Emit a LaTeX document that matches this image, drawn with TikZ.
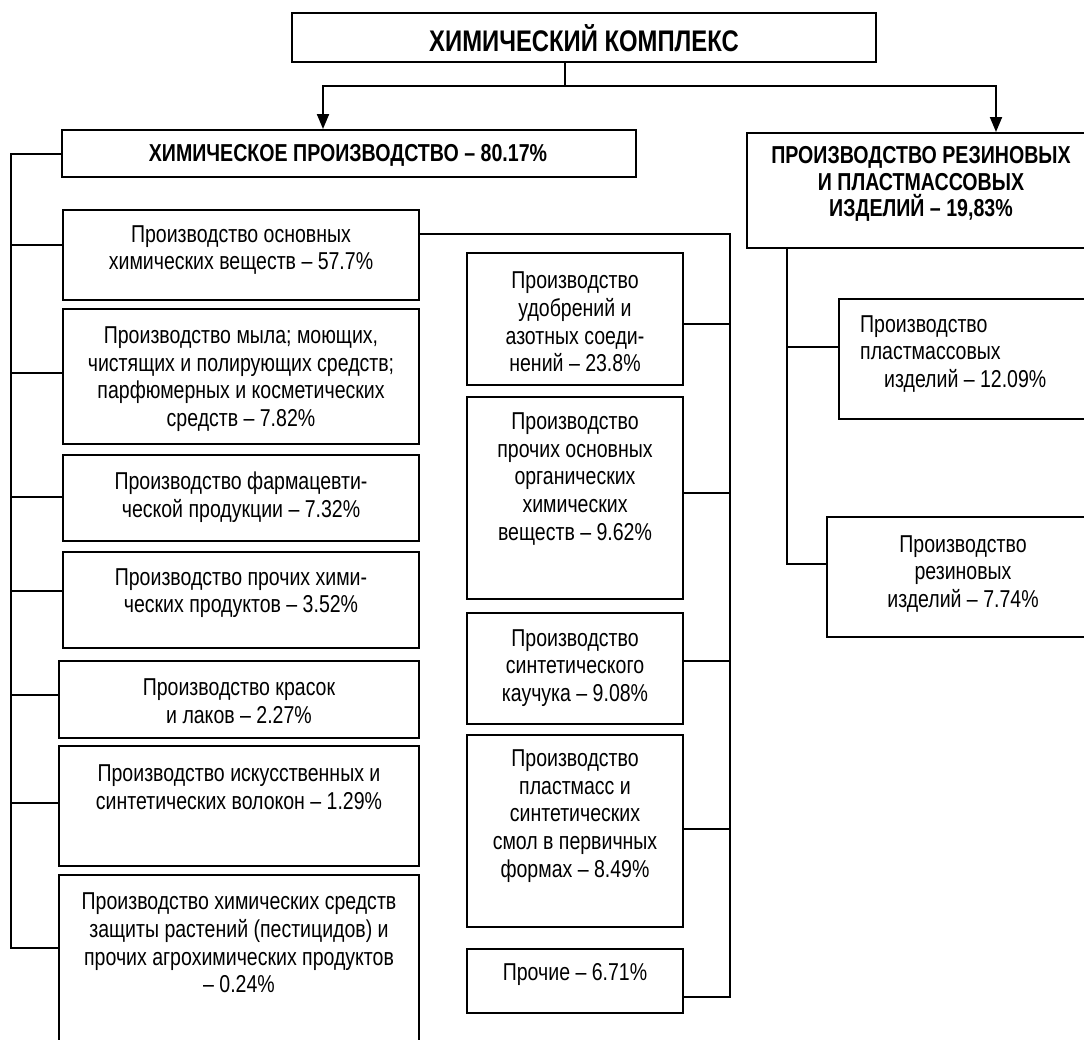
\documentclass[tikz,border=0pt]{standalone}
\usepackage{fontspec}
\setmainfont{Liberation Sans}[FakeStretch=0.8]
\usetikzlibrary{arrows.meta}
\tikzset{
  boxn/.style={draw, line width=2pt, rectangle, inner sep=0pt},
  txt/.style={align=center, inner sep=0pt, font=\fontsize{24.4}{27.6}\selectfont},
  btxt/.style={align=center, inner sep=0pt, font=\fontsize{24.5}{26.5}\selectfont\bfseries},
  conn/.style={line width=2pt},
  arr/.style={line width=2pt, -{Triangle[length=15pt,width=12pt]}},
}
\begin{document}
\begin{tikzpicture}[x=1pt,y=-1pt]
\clip (0,0) rectangle (1084,1039);
\fill[white] (0,0) rectangle (1084,1039);

% boxes
\node[boxn, minimum width=584pt, minimum height=49pt] (top) at (584,37.5) {};
\node[boxn, minimum width=574pt, minimum height=47pt] (chem) at (349,153.5) {};
\node[boxn, minimum width=350pt, minimum height=115pt] (R) at (922,190.5) {};

\node[boxn, minimum width=356pt, minimum height=90pt] (b1) at (241,255) {};
\node[boxn, minimum width=356pt, minimum height=135pt] (b2) at (241,376.5) {};
\node[boxn, minimum width=356pt, minimum height=86pt] (b3) at (241,498) {};
\node[boxn, minimum width=356pt, minimum height=96pt] (b4) at (241,600) {};
\node[boxn, minimum width=360pt, minimum height=77pt] (b5) at (239,699.5) {};
\node[boxn, minimum width=360pt, minimum height=120pt] (b6) at (239,806) {};
\node[boxn, minimum width=360pt, minimum height=225pt] (b7) at (239,987.5) {};

\node[boxn, minimum width=216pt, minimum height=132pt] (m1) at (575,319) {};
\node[boxn, minimum width=216pt, minimum height=202pt] (m2) at (575,498) {};
\node[boxn, minimum width=216pt, minimum height=111pt] (m3) at (575,668.5) {};
\node[boxn, minimum width=216pt, minimum height=192pt] (m4) at (575,831) {};
\node[boxn, minimum width=216pt, minimum height=64pt] (m5) at (575,981) {};

\node[boxn, minimum width=261pt, minimum height=120pt] (r1) at (969.5,359) {};
\node[boxn, minimum width=273pt, minimum height=120pt] (r2) at (963.5,577) {};

% texts
\node[btxt, font=\fontsize{29.8}{32}\selectfont\bfseries] (topt) at (584,38) {ХИМИЧЕСКИЙ КОМПЛЕКС};
\node[btxt] (chemt) at (348,155) {ХИМИЧЕСКОЕ ПРОИЗВОДСТВО – 80.17\%};
\node[btxt] (Rt) at (921,184) {ПРОИЗВОДСТВО РЕЗИНОВЫХ\\И ПЛАСТМАССОВЫХ\\ИЗДЕЛИЙ – 19,83\%};

\node[txt] (b1t) at (241,250) {Производство основных\\химических веществ – 57.7\%};
\node[txt] (b2t) at (241,379) {Производство мыла; моющих,\\чистящих и полирующих средств;\\парфюмерных и косметических\\средств – 7.82\%};
\node[txt] (b3t) at (241,497) {Производство фармацевти-\\ческой продукции – 7.32\%};
\node[txt] (b4t) at (241,593) {Производство прочих хими-\\ческих продуктов – 3.52\%};
\node[txt] (b5t) at (239,701) {Производство красок\\и лаков – 2.27\%};
\node[txt] (b6t) at (239,787) {Производство искусственных и\\синтетических волокон – 1.29\%};
\node[txt] (b7t) at (239,943) {Производство химических средств\\защиты растений (пестицидов) и\\прочих агрохимических продуктов\\– 0.24\%};

\node[txt] (m1t) at (575,322) {Производство\\удобрений и\\азотных соеди-\\нений – 23.8\%};
\node[txt] (m2t) at (575,479) {Производство\\прочих основных\\органических\\химических\\веществ – 9.62\%};
\node[txt] (m3t) at (575,668) {Производство\\синтетического\\каучука – 9.08\%};
\node[txt] (m4t) at (575,816) {Производство\\пластмасс и\\синтетических\\смол в первичных\\формах – 8.49\%};
\node[txt] (m5t) at (575,974) {Прочие – 6.71\%};

\node[txt, align=left, anchor=west] (r1t) at (860,354) {Производство\\пластмассовых\\\hspace*{24pt}изделий – 12.09\%};
\node[txt] (r2t) at (963,574) {Производство\\резиновых\\изделий – 7.74\%};

% top connectors
\coordinate (j) at (565,86);
\coordinate (ja) at (323,86);
\coordinate (jb) at (996,86);
\draw[conn] (top.south -| j) -- (j);
\draw[arr] (j) -- (ja) -- (ja |- chem.north);
\draw[arr] (j) -- (jb) -- (jb |- R.north);

% left bus
\coordinate (lbe) at (11,948);
\draw[conn] (chem.west) -| (lbe) -- (lbe -| b7.west);
\foreach \n/\yy in {b1/245, b2/373, b3/497, b4/591, b5/695, b6/803}{
  \coordinate (t\n) at (11,\yy);
  \draw[conn] (t\n) -- (t\n -| \n.west);
}

% middle bus
\coordinate (mt) at (730,234);
\coordinate (mb) at (730,997);
\draw[conn] (mt -| b1.east) -- (mt) -- (mb) -- (mb -| m5.east);
\foreach \n/\yy in {m1/324, m2/493, m3/661, m4/829}{
  \coordinate (u\n) at (730,\yy);
  \draw[conn] (u\n -| \n.east) -- (u\n);
}

% right bus
\coordinate (rt) at (787,248);
\coordinate (rb) at (787,564);
\coordinate (rr1) at (787,347);
\draw[conn] (rt |- R.south) -- (rb) -- (rb -| r2.west);
\draw[conn] (rr1) -- (rr1 -| r1.west);
\end{tikzpicture}
\end{document}
